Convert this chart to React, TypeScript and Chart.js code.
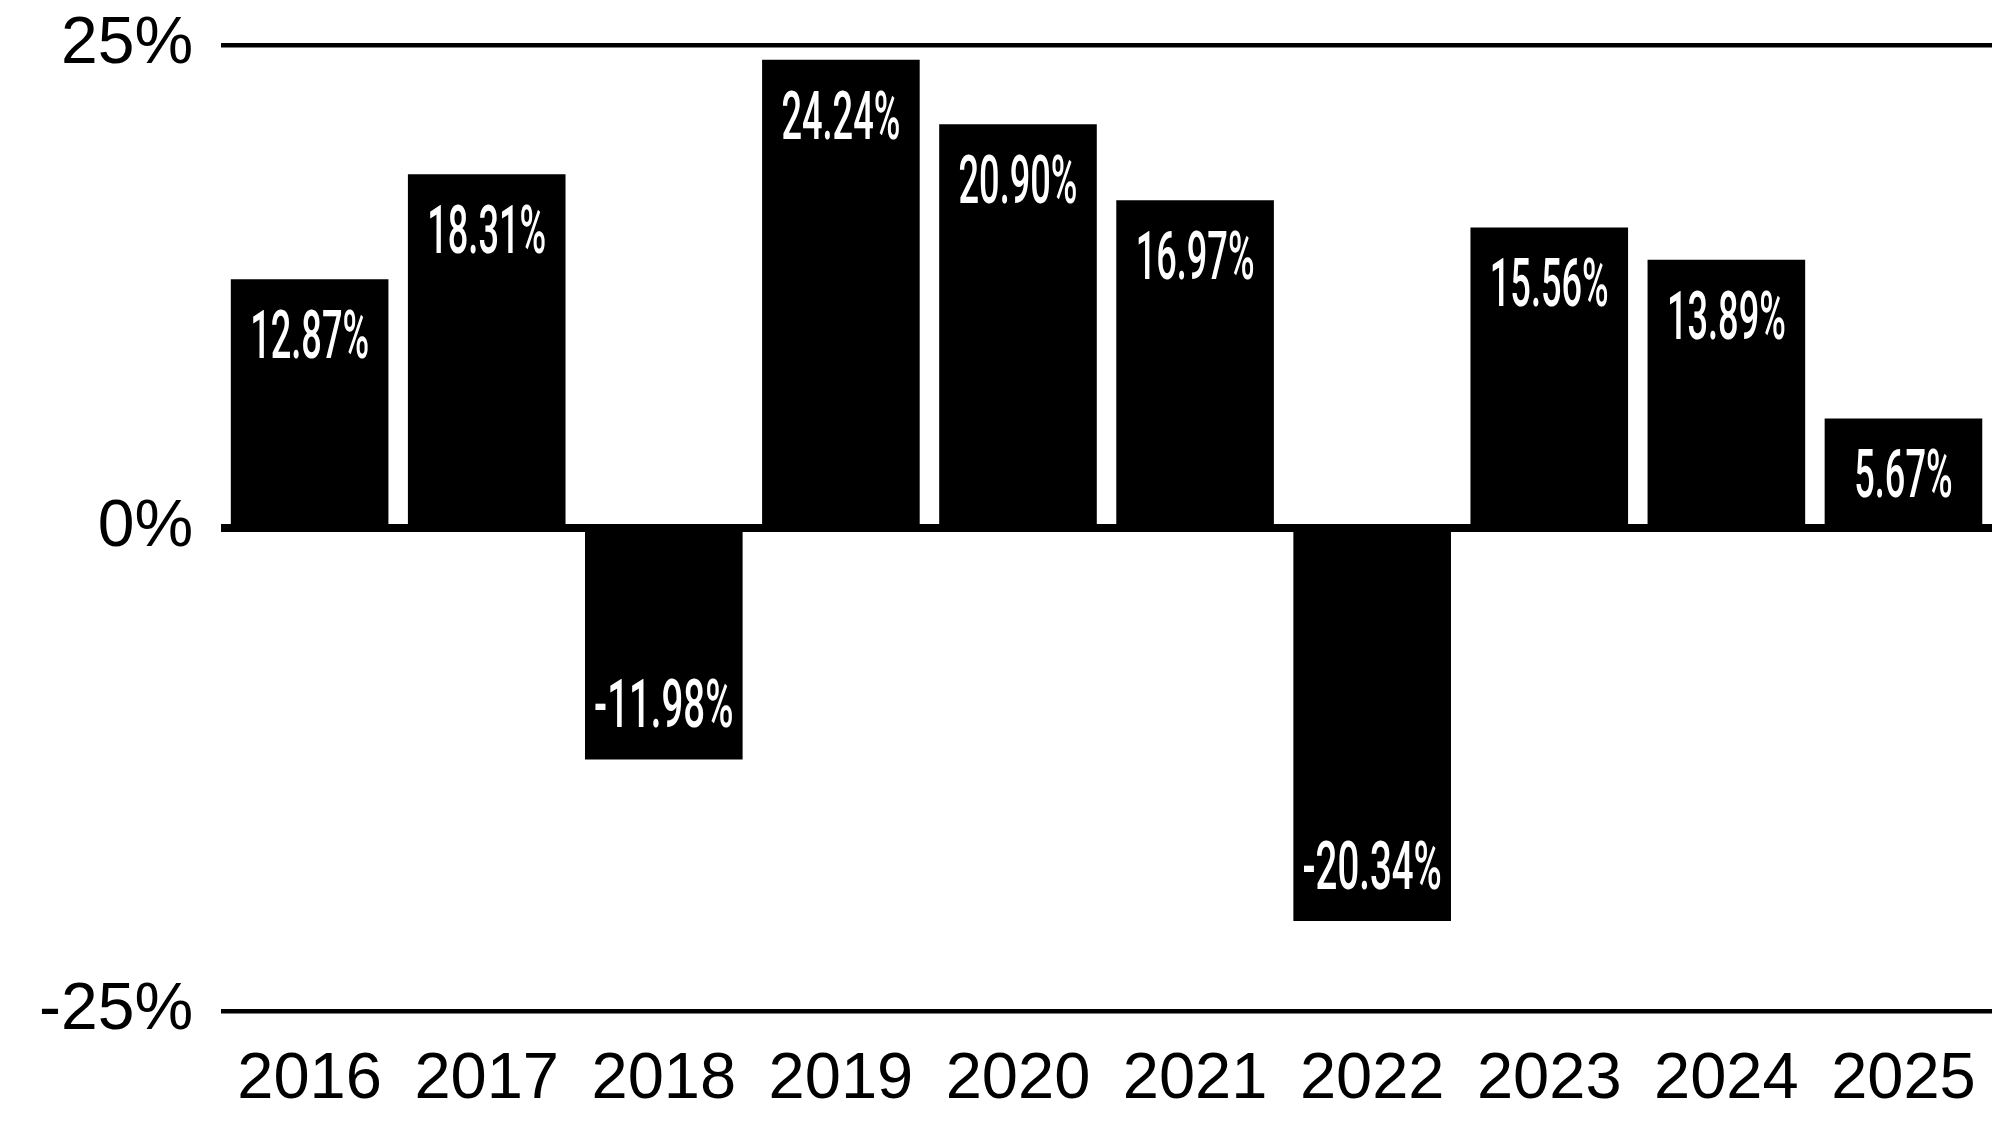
import React, { useEffect, useRef } from "react";
import { Chart, registerables } from "chart.js";

Chart.register(...registerables);

const years = ["2016", "2017", "2018", "2019", "2020", "2021", "2022", "2023", "2024", "2025"];
const returns = [12.87, 18.31, -11.98, 24.24, 20.9, 16.97, -20.34, 15.56, 13.89, 5.67];
const yTicks = [-25, 0, 25];

const labelPlugin = {
  id: "barLabels",
  afterDatasetsDraw(chart: any) {
    const ctx = chart.ctx;
    const meta = chart.getDatasetMeta(0);
    ctx.save();
    ctx.fillStyle = "#ffffff";
    ctx.font = "500 67px Roboto, 'Liberation Sans', Arial, sans-serif";
    ctx.textAlign = "center";
    ctx.textBaseline = "alphabetic";
    meta.data.forEach((el: any, i: number) => {
      const v = returns[i];
      const text = v.toFixed(2) + "%";
      const x = el.x;
      const yb = v >= 0 ? el.y + 79 : el.y - 32;
      const w = ctx.measureText(text).width;
      const target = (text.length - 0.2) * 20.5;
      const sx = target / w;
      ctx.save();
      ctx.translate(x, yb);
      ctx.scale(sx, 1);
      ctx.fillText(text, 0, 0);
      ctx.restore();
    });
    ctx.restore();
  },
};

export default function App() {
  const ref = useRef<HTMLCanvasElement | null>(null);
  useEffect(() => {
    document.body.style.margin = "0";
    document.documentElement.style.overflow = "hidden";
    if (!ref.current) return;
    const chart = new Chart(ref.current, {
      type: "bar",
      data: {
        labels: years,
        datasets: [
          {
            data: returns,
            backgroundColor: "#000000",
            borderWidth: 0,
            barPercentage: 0.89,
            categoryPercentage: 1,
          },
        ],
      },
      options: {
        responsive: false,
        animation: false,
        devicePixelRatio: 1,
        layout: { padding: { left: 39, right: 0, top: 45, bottom: 6 } },
        plugins: { legend: { display: false }, tooltip: { enabled: false } },
        scales: {
          x: {
            grid: {
              display: true,
              drawOnChartArea: false,
              drawTicks: true,
              tickLength: 30,
              tickColor: "rgba(0,0,0,0)",
              color: "rgba(0,0,0,0)",
            },
            border: { display: false },
            ticks: {
              color: "#000",
              padding: 0,
              font: { family: "'Liberation Sans', Arial, sans-serif", size: 65 },
            },
          },
          y: {
            min: -25,
            max: 25,
            afterBuildTicks: (axis: any) => {
              axis.ticks = yTicks.map((v) => ({ value: v }));
            },
            grid: {
              color: "#000",
              drawTicks: true,
              tickLength: 28,
              tickColor: "rgba(0,0,0,0)",
              lineWidth: (c: any) => (c.tick && c.tick.value === 0 ? 8 : 4.5),
            },
            border: { display: false },
            ticks: {
              color: "#000",
              padding: 0,
              font: { family: "'Liberation Sans', Arial, sans-serif", size: 66 },
              callback: (v: any) => v + "%",
            },
          },
        },
      },
      plugins: [labelPlugin],
    });
    return () => chart.destroy();
  }, []);
  return <canvas ref={ref} width={1992} height={1125} style={{ display: "block" }} />;
}
